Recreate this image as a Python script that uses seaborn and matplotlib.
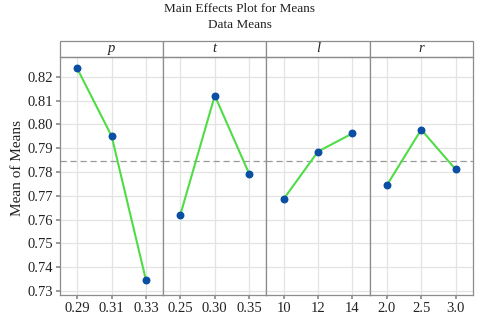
import pandas as pd
import matplotlib
matplotlib.use("Agg")
import matplotlib.pyplot as plt
import seaborn as sns
from matplotlib.patches import Rectangle

factors = ["p", "t", "l", "r"]
p_levels = ["0.29", "0.31", "0.33"]
t_levels = ["0.25", "0.30", "0.35"]
l_levels = ["10", "12", "14"]
r_levels = ["2.0", "2.5", "3.0"]
p_means = [0.8235, 0.7951, 0.7345]
t_means = [0.7621, 0.8121, 0.7792]
l_means = [0.7686, 0.7886, 0.7962]
r_means = [0.7744, 0.7978, 0.7811]
grand_mean = 0.7845
y_ticks = [0.73, 0.74, 0.75, 0.76, 0.77, 0.78, 0.79, 0.80, 0.81, 0.82]

levels = [p_levels, t_levels, l_levels, r_levels]
means = [p_means, t_means, l_means, r_means]

df = pd.concat([
    pd.DataFrame({"factor": f, "level": lv, "mean": mv})
    for f, lv, mv in zip(factors, levels, means)
])

sns.set_theme(style="white")
plt.rcParams["font.family"] = ["Liberation Serif", "DejaVu Serif"]

GRID = "#e3e3e3"
EDGE = "#8c8c8c"
LINE = "#50dc46"
DOT = "#0a4fa3"

fig, axes = plt.subplots(1, 4, figsize=(4.8, 3.21), dpi=100, sharey=True)
fig.subplots_adjust(left=0.125, right=0.985, bottom=0.081, top=0.823, wspace=0)

for ax, f in zip(axes, factors):
    sub = df[df["factor"] == f]
    ax.set_axisbelow(True)
    sns.pointplot(data=sub, x="level", y="mean", ax=ax, color=LINE,
                  markers="", linewidth=1.5, errorbar=None)
    ax.scatter(range(len(sub)), sub["mean"], s=22, color=DOT, zorder=5)
    ax.axhline(grand_mean, color="#9a9a9a", lw=0.9, ls=(0, (5, 3)), zorder=1)
    ax.set_xlim(-0.5, 2.5)
    ax.set_ylim(0.7283, 0.8284)
    ax.set_yticks(y_ticks)
    ax.grid(True, color=GRID, lw=0.9)
    ax.xaxis.grid(True, color=GRID, lw=0.9)
    ax.set_xlabel("")
    ax.set_ylabel("")
    for s in ax.spines.values():
        s.set_color(EDGE)
        s.set_linewidth(0.9)
    ax.tick_params(axis="both", labelsize=10.5, length=3, color=EDGE, pad=2,
                   labelcolor="#222222")
    ax.tick_params(axis="y", left=(f == "p"))
    ax.tick_params(axis="x", bottom=True)
    # facet strip above the panel
    strip = Rectangle((0, 1), 1, 0.067, transform=ax.transAxes, clip_on=False,
                      facecolor="white", edgecolor=EDGE, lw=0.9)
    ax.add_patch(strip)
    ax.text(0.5, 1.033, f, transform=ax.transAxes, ha="center", va="center",
            fontsize=10.5, style="italic", color="#222222")

axes[0].set_yticklabels([f"{v:.2f}" for v in y_ticks])
axes[0].set_ylabel("Mean of Means", fontsize=11, color="#222222", labelpad=4)
axes[0].yaxis.set_label_coords(-0.35, 0.535)

fig.suptitle("Main Effects Plot for Means\nData Means", x=0.5, y=0.99,
             fontsize=9.5, color="#222222", linespacing=1.45)

fig.savefig("out.png", dpi=100)
